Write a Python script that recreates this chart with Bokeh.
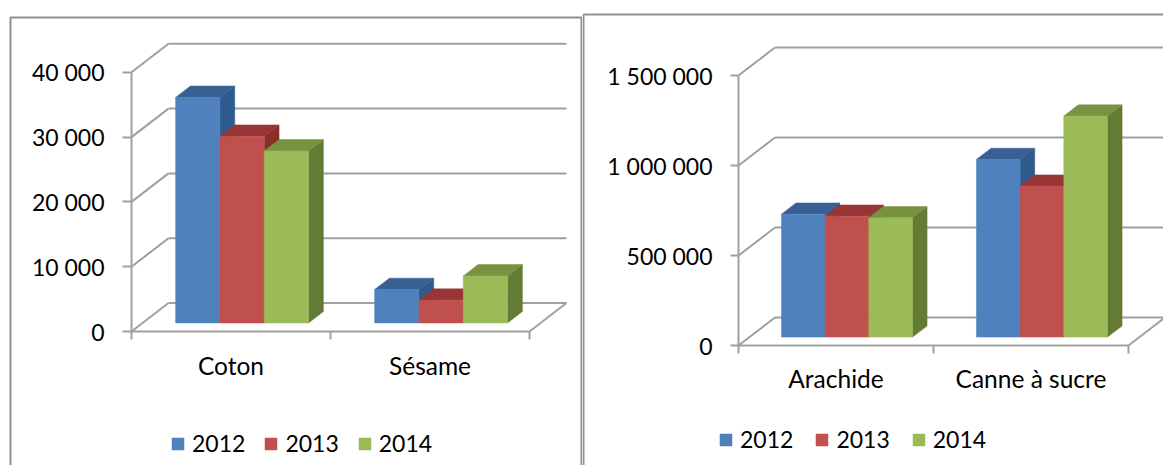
from bokeh.embed import file_html
from bokeh.layouts import row
from bokeh.models import (BoxAnnotation, FixedTicker, Legend, LegendItem, LinearAxis, Range1d)
from bokeh.plotting import figure
from bokeh.resources import INLINE

years = ["2012", "2013", "2014"]
crops_left = ["Coton", "Sésame"]
values_2012_left = [34800, 5150]
values_2013_left = [28800, 3500]
values_2014_left = [26550, 7250]
ticks_left = [0, 10000, 20000, 30000, 40000]
tick_labels_left = ["0", "10 000", "20 000", "30 000", "40 000"]

crops_right = ["Arachide", "Canne à sucre"]
values_2012_right = [683000, 987000]
values_2013_right = [672000, 839000]
values_2014_right = [663000, 1228000]
ticks_right = [0, 500000, 1000000, 1500000]
tick_labels_right = ["0", "500 000", "1 000 000", "1 500 000"]

FRONT = ["#4f81bd", "#c0504d", "#9bbb59"]
TOP = ["#386094", "#973634", "#789240"]
SIDE = ["#2f5a8e", "#8a2e2c", "#647b35"]
GRID = "#a0a0a0"
BORDER = "#8f8f8f"
FONT = "Lato"
TICK_SIZE = "23px"
CAT_SIZE = "24.5px"
LEG_SIZE = "23px"


def panel(cats, series, ticks, labels, width, height, ox, oy,
          px_x, px_y, dx_px, dy_px, bar_w, z0, z1, border, legend_xy, legend_gap,
          y_tick_out, y_standoff, cat_standoff):
    dx = dx_px / px_x
    dy = dy_px / px_y
    n = len(cats)
    p = figure(width=width, height=height, output_backend="svg", toolbar_location=None,
               x_range=Range1d(-ox / px_x, (width - ox) / px_x),
               y_range=Range1d(-(height - oy) / px_y, oy / px_y),
               x_axis_type=None, y_axis_type=None,
               min_border=0, outline_line_color=None, background_fill_color=None)
    p.grid.visible = False

    # walls and floor in oblique projection
    gx0, gx1, gy0, gy1 = [], [], [], []
    for t in ticks:
        gx0 += [0, dx]
        gy0 += [t, t + dy]
        gx1 += [dx, n + dx]
        gy1 += [t + dy, t + dy]
    gx0.append(n)
    gy0.append(0)
    gx1.append(n + dx)
    gy1.append(dy)
    p.segment(gx0, gy0, gx1, gy1, line_color=GRID, line_width=2)

    centers = [i + 0.5 for i in range(n)]
    items = []
    for s, vals in enumerate(series):
        lefts = [c + z0 * dx + (s - 1.5) * bar_w for c in centers]
        rights = [l + bar_w for l in lefts]
        bases = [z0 * dy] * n
        tops = [z0 * dy + v for v in vals]
        run_x = (z1 - z0) * dx
        run_y = (z1 - z0) * dy
        p.patches([[r, r + run_x, r + run_x, r] for r in rights],
                  [[b, b + run_y, t + run_y, t] for b, t in zip(bases, tops)],
                  fill_color=SIDE[s], line_color=SIDE[s], line_width=0.5)
        p.patches([[l, l + run_x, r + run_x, r] for l, r in zip(lefts, rights)],
                  [[t, t + run_y, t + run_y, t] for t in tops],
                  fill_color=TOP[s], line_color=TOP[s], line_width=0.5)
        q = p.quad(left=lefts, right=rights, bottom=bases, top=tops,
                   fill_color=FRONT[s], line_color=FRONT[s], line_width=0.5)
        items.append(LegendItem(label=years[s], renderers=[q]))

    yaxis = LinearAxis(ticker=FixedTicker(ticks=ticks), bounds=(0, ticks[-1]),
                       fixed_location=0,
                       major_label_overrides=dict(zip(ticks, labels)),
                       major_tick_out=y_tick_out, major_tick_in=0, major_label_standoff=y_standoff,
                       axis_line_color=GRID, axis_line_width=2,
                       major_tick_line_color=GRID, major_tick_line_width=2,
                       major_label_text_font=FONT, major_label_text_font_size=TICK_SIZE,
                       major_label_text_color="#000000")
    p.add_layout(yaxis, "left")

    xaxis = LinearAxis(ticker=FixedTicker(ticks=centers, minor_ticks=list(range(n + 1))),
                       bounds=(0, n),
                       fixed_location=0,
                       major_label_overrides=dict(zip(centers, cats)),
                       major_tick_out=8, major_tick_in=0, major_label_standoff=cat_standoff,
                       minor_tick_out=8, minor_tick_in=0,
                       major_tick_line_color=None,
                       minor_tick_line_color=GRID, minor_tick_line_width=2,
                       axis_line_color=GRID, axis_line_width=2,
                       major_label_text_font=FONT, major_label_text_font_size=CAT_SIZE,
                       major_label_text_color="#000000")
    p.add_layout(xaxis, "below")

    legend = Legend(items=items, orientation="horizontal", location=legend_xy,
                    background_fill_alpha=0, border_line_color=None,
                    margin=0, padding=0, spacing=legend_gap,
                    glyph_width=15, glyph_height=15, label_standoff=7,
                    label_text_font=FONT, label_text_font_size=LEG_SIZE,
                    label_text_color="#000000")
    p.add_layout(legend, "center")

    p.add_layout(BoxAnnotation(left=border[0], top=border[1], right=border[2], bottom=border[3],
                               left_units="canvas", right_units="canvas",
                               top_units="canvas", bottom_units="canvas",
                               fill_alpha=0, line_color=BORDER, line_alpha=1, line_width=2))
    return p


left_panel = panel(crops_left,
                   [values_2012_left, values_2013_left, values_2014_left],
                   ticks_left, tick_labels_left,
                   width=582, height=465, ox=131, oy=331,
                   px_x=199, px_y=64.8 / 10000, dx_px=37, dy_px=28.5,
                   bar_w=0.2227, z0=0.3, z1=0.7,
                   border=(10, 17, 581, 480), legend_xy=(170, 8), legend_gap=18,
                   y_tick_out=9, y_standoff=18, cat_standoff=11)

right_panel = panel(crops_right,
                    [values_2012_right, values_2013_right, values_2014_right],
                    ticks_right, tick_labels_right,
                    width=581, height=465, ox=156, oy=345,
                    px_x=195, px_y=90 / 500000, dx_px=36.5, dy_px=28,
                    bar_w=0.224, z0=0.3, z1=0.7,
                    border=(1, 14, 600, 480), legend_xy=(136, 12), legend_gap=21,
                    y_tick_out=8, y_standoff=18, cat_standoff=10)

layout = row(left_panel, right_panel, spacing=0)
open("out.html", "w").write(file_html(layout, INLINE))
